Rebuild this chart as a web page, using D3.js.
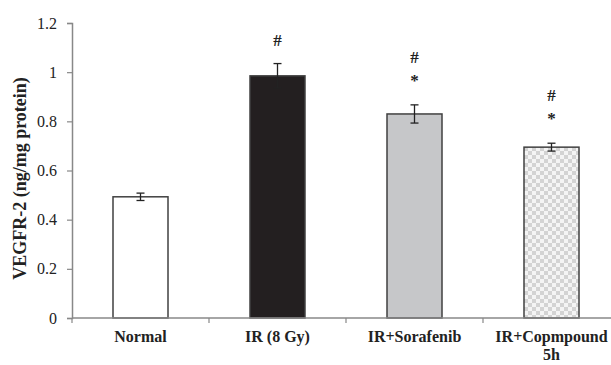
<!DOCTYPE html>
<meta charset="utf-8">
<script src="https://d3js.org/d3.v7.min.js"></script>
<style>
  body { margin: 0; background: #fff; }
  text { font-family: "Liberation Serif", "Times New Roman", serif; }
</style>
<div id="chart"></div>
<script>
var groups = ["Normal", "IR (8 Gy)", "IR+Sorafenib", "IR+Copmpound 5h"];
var values = [0.493, 0.985, 0.83, 0.695];
var errors = [0.015, 0.05, 0.037, 0.016];
var marks = [[], ["#"], ["#", "*"], ["#", "*"]];
var yTicks = [0, 0.2, 0.4, 0.6, 0.8, 1, 1.2];

var margin = {top: 23, left: 72},
    width = 548, height = 295;

var svg = d3.select("#chart").append("svg")
  .attr("width", 611).attr("height", 365)
  .append("g")
  .attr("transform", "translate(" + margin.left + "," + margin.top + ")");

// checker pattern for the last bar
var defs = svg.append("defs");
var pat = defs.append("pattern").attr("id", "checker")
  .attr("width", 8).attr("height", 8).attr("patternUnits", "userSpaceOnUse");
pat.append("rect").attr("width", 8).attr("height", 8).attr("fill", "#f4f4f4");
pat.append("rect").attr("width", 4).attr("height", 4).attr("fill", "#d3d3d3");
pat.append("rect").attr("x", 4).attr("y", 4).attr("width", 4).attr("height", 4).attr("fill", "#d3d3d3");

var fills = ["#ffffff", "#231f20", "#c6c7c9", "url(#checker)"];

var x = d3.scaleBand().domain(groups).range([0, width]).paddingInner(0).paddingOuter(0);
var y = d3.scaleLinear().domain([0, 1.2]).range([height, 0]);

// y axis
var yAxis = svg.append("g")
  .call(d3.axisLeft(y).tickValues(yTicks).tickSize(5).tickPadding(10)
    .tickFormat(function(d){ return String(+d.toFixed(1)); }));
yAxis.select(".domain").attr("stroke", "#888").attr("stroke-width", 1.5);
yAxis.selectAll(".tick line").attr("stroke", "#888").attr("stroke-width", 1.2);
yAxis.selectAll(".tick text").style("font-size", "16px").attr("fill", "#222");

// bars
var bw = 55;
svg.selectAll(".bar").data(groups).enter().append("rect")
  .attr("x", function(d){ return x(d) + x.bandwidth()/2 - bw/2; })
  .attr("y", function(d, i){ return y(values[i]); })
  .attr("width", bw)
  .attr("height", function(d, i){ return height - y(values[i]); })
  .attr("fill", function(d, i){ return fills[i]; })
  .attr("stroke", "#404040").attr("stroke-width", 1.5);

// error bars
var eb = svg.selectAll(".err").data(groups).enter().append("g");
eb.append("line")
  .attr("x1", function(d){ return x(d) + x.bandwidth()/2; })
  .attr("x2", function(d){ return x(d) + x.bandwidth()/2; })
  .attr("y1", function(d, i){ return y(values[i] + errors[i]); })
  .attr("y2", function(d, i){ return y(values[i] - errors[i]); })
  .attr("stroke", "#222").attr("stroke-width", 1.3);
[1, -1].forEach(function(s){
  eb.append("line")
    .attr("x1", function(d){ return x(d) + x.bandwidth()/2 - 4; })
    .attr("x2", function(d){ return x(d) + x.bandwidth()/2 + 4; })
    .attr("y1", function(d, i){ return y(values[i] + s*errors[i]); })
    .attr("y2", function(d, i){ return y(values[i] + s*errors[i]); })
    .attr("stroke", "#222").attr("stroke-width", 1.3);
});

// significance marks
groups.forEach(function(g, i){
  var top = y(values[i] + errors[i]);
  var n = marks[i].length;
  marks[i].forEach(function(m, j){
    var off = n == 1 ? 18 : (m == "*" ? 19 : 42);
    svg.append("text")
      .attr("x", x(g) + x.bandwidth()/2)
      .attr("y", top - off)
      .attr("text-anchor", "middle")
      .style("font-size", "17px").style("font-weight", "bold")
      .attr("fill", "#222")
      .text(m);
  });
});

// x axis
svg.append("line").attr("x1", 0).attr("x2", width).attr("y1", height).attr("y2", height)
  .attr("stroke", "#888").attr("stroke-width", 1.5);
svg.selectAll(".xt").data(groups).enter().append("line")
  .attr("x1", function(d){ return x(d); }).attr("x2", function(d){ return x(d); })
  .attr("y1", height).attr("y2", height + 5)
  .attr("stroke", "#888").attr("stroke-width", 1.2);

// category labels
var labelLines = [["Normal"], ["IR (8 Gy)"], ["IR+Sorafenib"], ["IR+Copmpound", "5h"]];
groups.forEach(function(g, i){
  labelLines[i].forEach(function(l, j){
    svg.append("text")
      .attr("x", x(g) + x.bandwidth()/2)
      .attr("y", height + 24 + j * 18)
      .attr("text-anchor", "middle")
      .style("font-size", "16px").style("font-weight", "bold").attr("fill", "#222")
      .text(l);
  });
});

// y label
svg.append("text")
  .attr("transform", "translate(" + (-46) + "," + (height/2 + 8) + ")rotate(-90)")
  .attr("text-anchor", "middle")
  .style("font-size", "18px").style("font-weight", "bold").attr("fill", "#222")
  .text("VEGFR-2 (ng/mg protein)");
</script>
